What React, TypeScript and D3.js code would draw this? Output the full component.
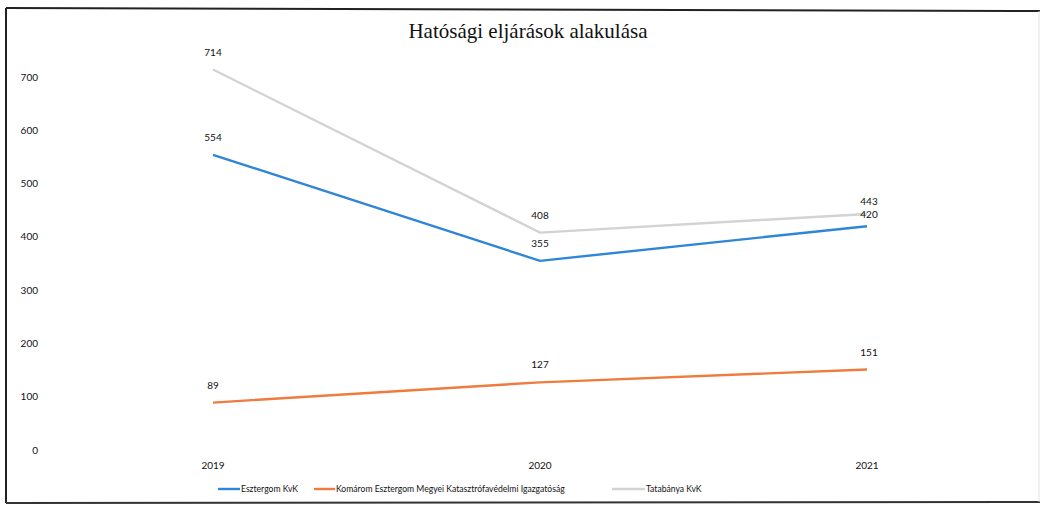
import React from "react";
import * as d3 from "d3";

const years = ["2019", "2020", "2021"];
const esztergom = [554, 355, 420];
const komarom = [89, 127, 151];
const tatabanya = [714, 408, 443];
const yTicks = [0, 100, 200, 300, 400, 500, 600, 700];
const seriesNames = [
  "Esztergom KvK",
  "Komárom Esztergom Megyei Katasztrófavédelmi Igazgatóság",
  "Tatabánya KvK",
];
const title = "Hatósági eljárások alakulása";

const W = 1041;
const H = 508;

export default function App() {
  const x = d3.scalePoint<string>().domain(years).range([213, 867]);
  const y = d3.scaleLinear().domain([0, 700]).range([450, 77]);
  const line = d3
    .line<number>()
    .x((_, i) => x(years[i]) as number)
    .y((d) => y(d));

  const series = [
    { name: seriesNames[0], data: esztergom, color: "#2f86d6" },
    { name: seriesNames[1], data: komarom, color: "#ef7b3e" },
    { name: seriesNames[2], data: tatabanya, color: "#d3d3d3" },
  ];

  const labelDy = (si: number, i: number) => {
    if (si === 0 && i === 2) return -8;
    if (si === 2 && i === 2) return -9;
    return -14;
  };

  const legendItems = [
    { lx: 218, tx: 241 },
    { lx: 314, tx: 336 },
    { lx: 612, tx: 646 },
  ];

  const sans = "Lato, 'Open Sans', sans-serif";

  return (
    <svg
      width={W}
      height={H}
      style={{ position: "absolute", left: 0, top: 0, background: "#fff" }}
    >
      <rect x={0} y={0} width={W} height={H} fill="#fff" />
      <line x1={6} y1={8} x2={1040} y2={11} stroke="#222" strokeWidth={2} />
      <line x1={6} y1={8} x2={6} y2={503} stroke="#222" strokeWidth={2} />
      <line x1={6} y1={503} x2={1040} y2={502} stroke="#333" strokeWidth={2} />
      <line x1={1039} y1={11} x2={1039} y2={502} stroke="#e2e2e2" strokeWidth={1} />

      <text
        x={528}
        y={38}
        textAnchor="middle"
        fontFamily="'Liberation Serif', 'Times New Roman', serif"
        fontSize={21}
        fill="#111"
      >
        {title}
      </text>

      {yTicks.map((t) => (
        <text
          key={t}
          x={38}
          y={y(t) + 3.5}
          textAnchor="end"
          fontFamily={sans}
          fontSize={10}
          fill="#111"
        >
          {t}
        </text>
      ))}

      {years.map((yr) => (
        <text
          key={yr}
          x={x(yr) as number}
          y={469}
          textAnchor="middle"
          fontFamily={sans}
          fontSize={10}
          fill="#111"
        >
          {yr}
        </text>
      ))}

      {series.map((s) => (
        <path
          key={s.name}
          d={line(s.data) || ""}
          fill="none"
          stroke={s.color}
          strokeWidth={2.4}
        />
      ))}

      {series.map((s, si) =>
        s.data.map((v, i) => (
          <text
            key={s.name + i}
            x={(x(years[i]) as number) + (i === 2 ? 2 : 0)}
            y={y(v) + labelDy(si, i)}
            textAnchor="middle"
            fontFamily={sans}
            fontSize={10}
            fill="#111"
          >
            {v}
          </text>
        ))
      )}

      {series.map((s, i) => (
        <g key={"lg" + i}>
          <line
            x1={legendItems[i].lx}
            x2={legendItems[i].tx - 1}
            y1={489}
            y2={489}
            stroke={s.color}
            strokeWidth={2.4}
          />
          <text
            x={legendItems[i].tx}
            y={492}
            fontFamily={sans}
            fontSize={8.6}
            fill="#111"
          >
            {s.name}
          </text>
        </g>
      ))}
    </svg>
  );
}
